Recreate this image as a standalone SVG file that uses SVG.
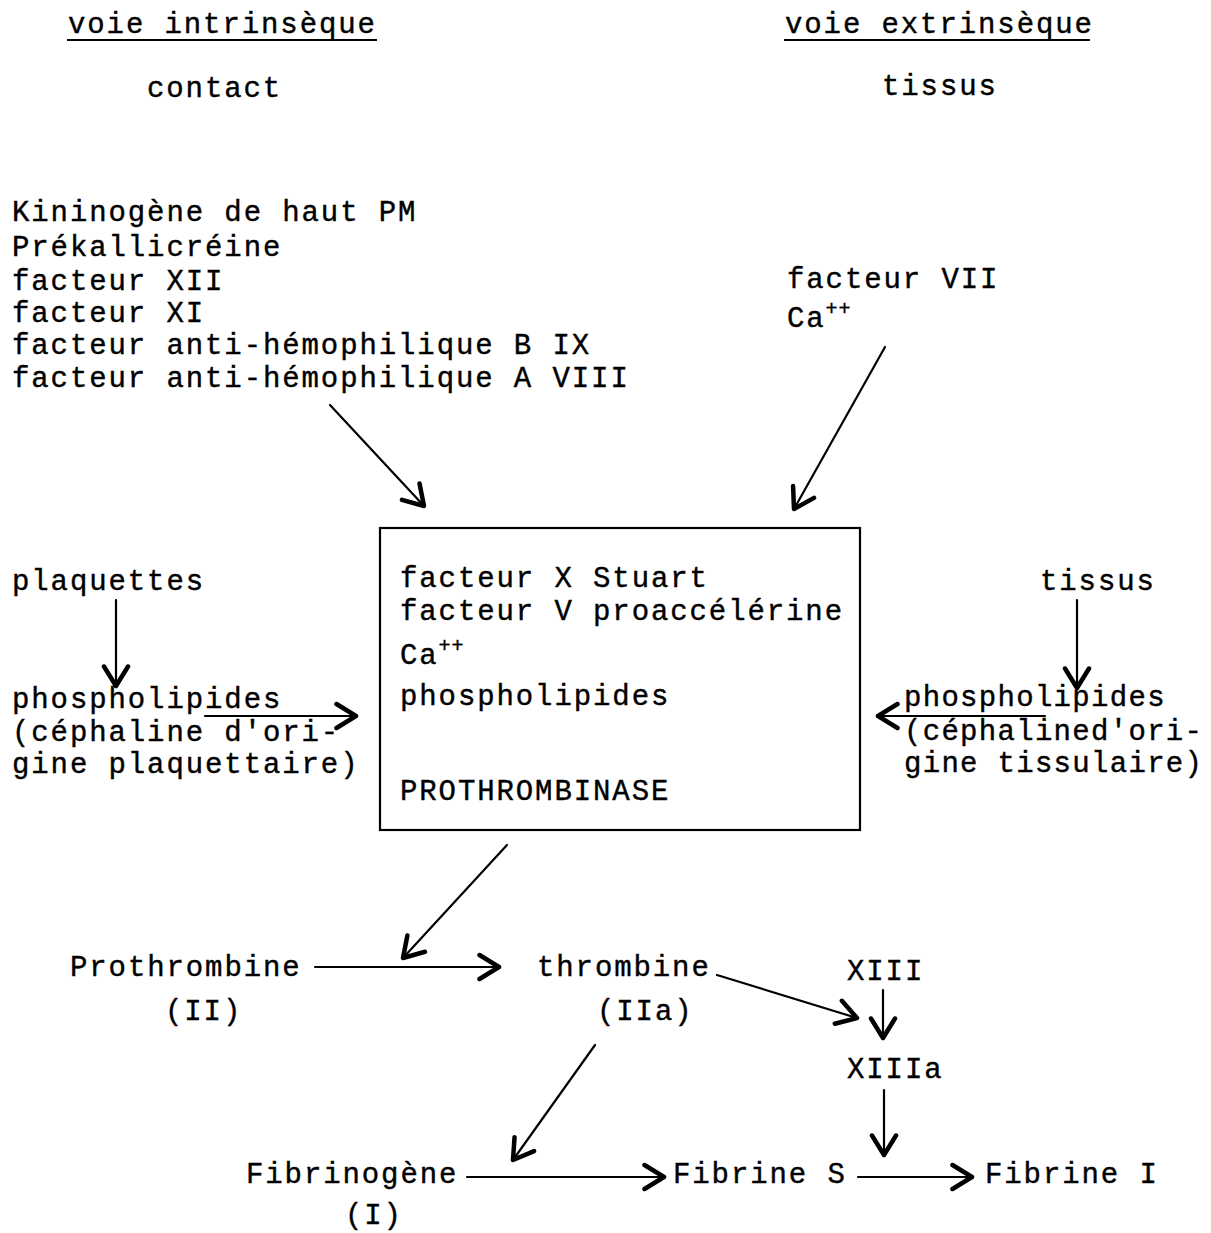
<svg xmlns="http://www.w3.org/2000/svg" width="1211" height="1233" viewBox="0 0 1211 1233">
<defs>
<marker id="ah" markerUnits="userSpaceOnUse" markerWidth="30" markerHeight="30" viewBox="-16 -10 20 20" refX="0" refY="0" orient="auto">
<path d="M-13,-8 L0,0 L-13,8" fill="none" stroke="#000" stroke-width="3" stroke-linecap="round" stroke-linejoin="round"/>
</marker>
<style>
text{font-family:"Liberation Mono","Courier New",monospace;font-size:29px;letter-spacing:1.9px;fill:#000;stroke:#000;stroke-width:0.4px}
.sup{font-size:20px;letter-spacing:1px}
.r{letter-spacing:1.3px}
.c{fill:none;stroke:#000;stroke-width:2.2px;stroke-linecap:round}
.ul{stroke:#000;stroke-width:2px}
</style>
</defs>
<rect width="1211" height="1233" fill="#fff"/>
<g id="titre-intrinseque">
<text x="68" y="33">voie intrinsèque</text>
<line class="ul" x1="67" y1="40" x2="377" y2="40"/>
</g>
<g id="titre-extrinseque">
<text x="785" y="33">voie extrinsèque</text>
<line class="ul" x1="784" y1="40" x2="1090" y2="40"/>
</g>
<g id="contact"><text x="147" y="97">contact</text></g>
<g id="tissus-haut"><text x="882" y="95">tissus</text></g>
<g id="facteurs-intrinseques">
<text x="12" y="221">Kininogène de haut PM</text>
<text x="12" y="256">Prékallicréine</text>
<text x="12" y="290">facteur XII</text>
<text x="12" y="322">facteur XI</text>
<text x="12" y="354">facteur anti-hémophilique B IX</text>
<text x="12" y="387">facteur anti-hémophilique A VIII</text>
</g>
<g id="facteurs-extrinseques">
<text x="787" y="288">facteur VII</text>
<text x="787" y="327">Ca<tspan class="sup" dy="-12">++</tspan></text>
</g>
<g id="prothrombinase">
<rect x="380" y="528" width="480" height="302" fill="none" stroke="#000" stroke-width="2.2"/>
<text x="400" y="587">facteur X Stuart</text>
<text x="400" y="620">facteur V proaccélérine</text>
<text x="400" y="664">Ca<tspan class="sup" dy="-12">++</tspan></text>
<text x="400" y="705">phospholipides</text>
<text x="400" y="800">PROTHROMBINASE</text>
</g>
<g id="plaquettes"><text x="12" y="590">plaquettes</text></g>
<g id="phospholipides-plaquettaires">
<text x="12" y="708">phospholipides</text>
<text x="12" y="741">(céphaline d'ori-</text>
<text x="12" y="773">gine plaquettaire)</text>
</g>
<g id="tissus-droite"><text x="1040" y="590">tissus</text></g>
<g id="phospholipides-tissulaires">
<text class="r" x="904" y="706">phospholipides</text>
<text class="r" x="904" y="740">(céphalined'ori-</text>
<text class="r" x="904" y="772">gine tissulaire)</text>
</g>
<g id="prothrombine">
<text x="70" y="976">Prothrombine</text>
<text x="165" y="1020">(II)</text>
</g>
<g id="thrombine">
<text x="537" y="976">thrombine</text>
<text x="597" y="1020">(IIa)</text>
</g>
<g id="xiii"><text x="847" y="980">XIII</text></g>
<g id="xiiia"><text x="847" y="1078">XIIIa</text></g>
<g id="fibrinogene">
<text x="246" y="1183">Fibrinogène</text>
<text x="345" y="1224">(I)</text>
</g>
<g id="fibrine-s"><text x="673" y="1183">Fibrine S</text></g>
<g id="fibrine-i"><text x="985" y="1183">Fibrine I</text></g>
<g id="connecteurs">
<line class="c" x1="330" y1="405" x2="424" y2="506" marker-end="url(#ah)"/>
<line class="c" x1="885" y1="347" x2="794" y2="509" marker-end="url(#ah)"/>
<line class="c" x1="116" y1="600" x2="116" y2="686" marker-end="url(#ah)"/>
<line class="c" x1="205" y1="716" x2="356" y2="716" marker-end="url(#ah)"/>
<line class="c" x1="1077" y1="600" x2="1077" y2="688" marker-end="url(#ah)"/>
<line class="c" x1="1045" y1="716" x2="878" y2="716" marker-end="url(#ah)"/>
<line class="c" x1="507" y1="845" x2="403" y2="958" marker-end="url(#ah)"/>
<line class="c" x1="315" y1="967" x2="499" y2="967" marker-end="url(#ah)"/>
<line class="c" x1="717" y1="975" x2="857" y2="1018" marker-end="url(#ah)"/>
<line class="c" x1="883" y1="990" x2="883" y2="1038" marker-end="url(#ah)"/>
<line class="c" x1="884" y1="1090" x2="884" y2="1155" marker-end="url(#ah)"/>
<line class="c" x1="595" y1="1045" x2="513" y2="1160" marker-end="url(#ah)"/>
<line class="c" x1="467" y1="1177" x2="664" y2="1177" marker-end="url(#ah)"/>
<line class="c" x1="858" y1="1177" x2="972" y2="1177" marker-end="url(#ah)"/>
</g>
</svg>
